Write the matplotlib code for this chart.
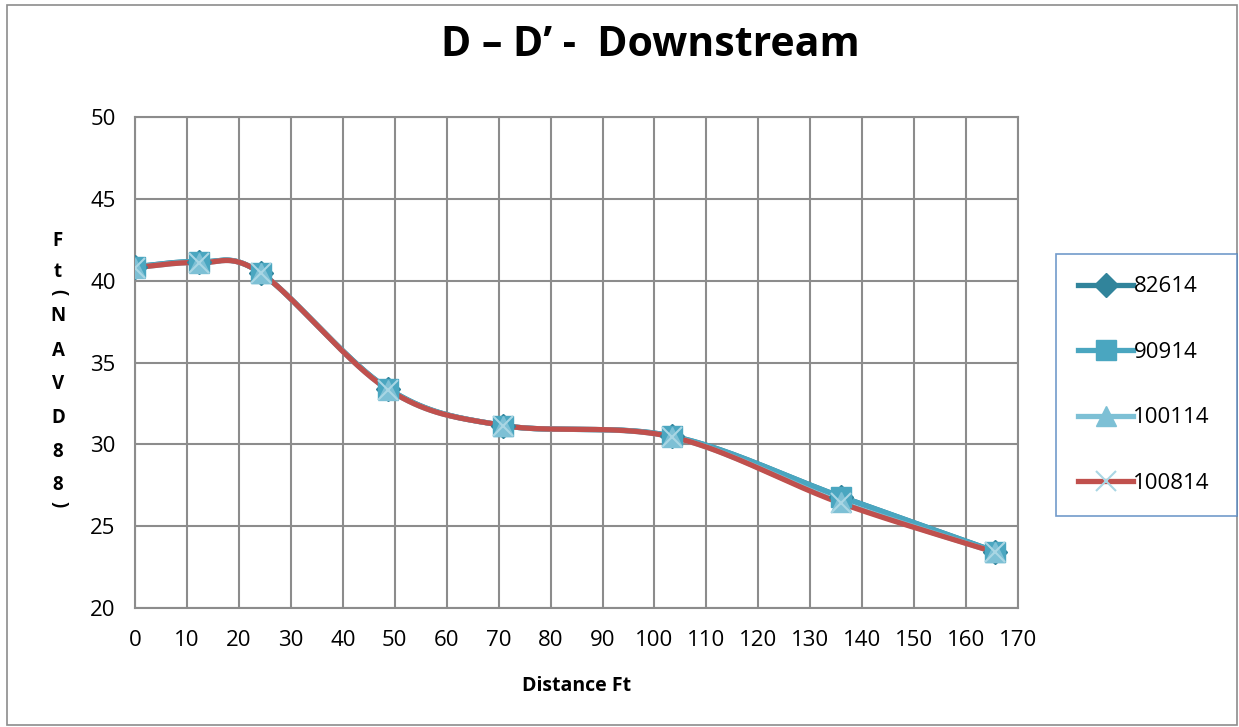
import numpy as np
import matplotlib
matplotlib.use('Agg')
from matplotlib import pyplot as plt
from matplotlib.lines import Line2D
from matplotlib.patches import Rectangle

plt.rcParams['font.family'] = ['Open Sans', 'DejaVu Sans']

title = 'D \u2013 D\u2019 -  Downstream'
x_label = 'Distance Ft'
y_label = 'Ft(NAVD88)'

distance = [0, 12.3, 24.3, 48.7, 70.9, 103.4, 135.9, 165.6]
series_names = ['82614', '90914', '100114', '100814']
elev_82614 = [40.85, 41.15, 40.45, 33.40, 31.15, 30.50, 26.80, 23.45]
elev_90914 = [40.85, 41.15, 40.45, 33.40, 31.15, 30.50, 26.80, 23.45]
elev_100114 = [40.80, 41.10, 40.45, 33.35, 31.15, 30.45, 26.45, 23.40]
elev_100814 = [40.80, 41.10, 40.45, 33.35, 31.15, 30.45, 26.40, 23.40]

x_ticks = list(range(0, 171, 10))
y_ticks = list(range(20, 51, 5))


def smooth(xs, ys, n=40):
    # excel-style smoothed line: cubic bezier between points
    p = np.column_stack([xs, ys]).astype(float)
    ext = np.vstack([p[0], p, p[-1]])
    out = []
    t = np.linspace(0, 1, n)[:, None]
    for i in range(len(p) - 1):
        p0, p1, p2, p3 = ext[i], ext[i + 1], ext[i + 2], ext[i + 3]
        c1 = p1 + (p2 - p0) / 6.0
        c2 = p2 - (p3 - p1) / 6.0
        seg = ((1 - t) ** 3) * p1 + 3 * ((1 - t) ** 2) * t * c1 + 3 * (1 - t) * t ** 2 * c2 + t ** 3 * p2
        out.append(seg if i == 0 else seg[1:])
    out = np.vstack(out)
    return out[:, 0], out[:, 1]


fig = plt.figure(figsize=(12.39, 7.27), dpi=100)
fig.patches.append(Rectangle((0.006, 0.003), 0.992, 0.99, transform=fig.transFigure,
                             fill=False, edgecolor='#8c8c8c', linewidth=1.2))
ax = fig.add_axes([0.109, 0.1637, 0.7127, 0.6753])

all_series = [elev_82614, elev_90914, elev_100114, elev_100814]
line_colors = ['#31849b', '#4aa6c0', '#7dc0d5', '#c0504d']
marker_face = ['#31849b', '#4aa6c0', '#7dc0d5', '#a9d6e4']
markers = ['D', 's', '^', 'x']
msizes = [12, 14, 14, 14]

for ys, c in zip(all_series, line_colors):
    sx, sy = smooth(distance, ys)
    ax.plot(sx, sy, color=c, linewidth=3.8, solid_capstyle='round', zorder=3)

for ys, mc, m, ms in zip(all_series, marker_face, markers, msizes):
    if m == 'x':
        ax.plot(distance, ys, linestyle='none', marker=m, markersize=ms,
                markeredgecolor=mc, markeredgewidth=1.5, zorder=5)
    else:
        ax.plot(distance, ys, linestyle='none', marker=m, markersize=ms,
                markerfacecolor=mc, markeredgecolor=mc, zorder=4)

ax.set_xlim(0, 170)
ax.set_ylim(20, 50)
ax.set_xticks(x_ticks)
ax.set_yticks(y_ticks)
ax.tick_params(labelsize=16, length=0)
ax.tick_params(axis='x', pad=16)
ax.tick_params(axis='y', pad=14)
ax.grid(True, color='#8c8c8c', linewidth=1.5)
ax.set_axisbelow(True)
for s in ax.spines.values():
    s.set_color('#8c8c8c')
    s.set_linewidth(1.5)

ax.set_xlabel(x_label, fontsize=14, fontweight='bold', labelpad=18)
fig.text(0.525, 0.938, title, fontsize=29.5, fontweight='bold', ha='center', va='center')

# stacked vertical y label, parentheses turned sideways
y_pos = [241, 272, 292, 316, 351, 384, 418, 452, 485, 504]
for ch, yp in zip(y_label, y_pos):
    rot = -90 if ch in '()' else 0
    fig.text(58 / 1239, 1 - yp / 727, ch, fontsize=13.5, fontweight='bold',
             ha='center', va='center', rotation=rot, rotation_mode='anchor')

handles = []
for lc, mc, m, ms in zip(line_colors, marker_face, markers, msizes):
    if m == 'x':
        handles.append(Line2D([], [], color=lc, linewidth=3.8, marker=m, markersize=ms,
                              markeredgecolor=mc, markeredgewidth=1.5))
    else:
        handles.append(Line2D([], [], color=lc, linewidth=3.8, marker=m, markersize=ms,
                              markerfacecolor=mc, markeredgecolor=mc))
leg = fig.legend(handles, series_names, loc='center', bbox_to_anchor=(0.852, 0.2875, 0.146, 0.3655),
                 mode='expand', borderaxespad=0, fontsize=16, handlelength=2.5, handletextpad=0.0,
                 labelspacing=2.0, borderpad=1.0, fancybox=False, frameon=True)
leg.get_frame().set_edgecolor('#4f81bd')
leg.get_frame().set_linewidth(1.2)

plt.savefig('out.png', dpi=100)
